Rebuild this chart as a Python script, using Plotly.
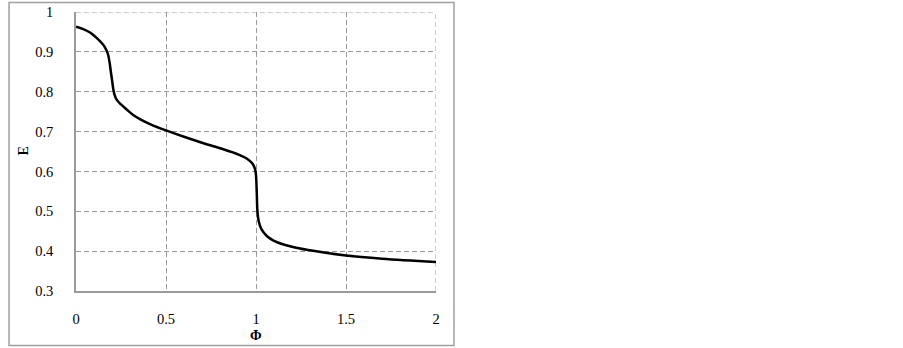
import plotly.graph_objects as go

phi = [0, 0.04, 0.08, 0.11, 0.145, 0.16, 0.177, 0.186, 0.193, 0.2, 0.206, 0.213, 0.225,
       0.25, 0.28, 0.32, 0.36, 0.42, 0.5, 0.6, 0.7, 0.8, 0.9, 0.95, 0.98, 0.995, 1.0, 1.004,
       1.008, 1.015, 1.03, 1.06, 1.1, 1.2, 1.3, 1.5, 1.7, 2.0]
E = [0.963, 0.957, 0.948, 0.937, 0.921, 0.912, 0.895, 0.875, 0.852, 0.83, 0.81, 0.794,
     0.781, 0.768, 0.756, 0.741, 0.730, 0.717, 0.703, 0.687, 0.672, 0.658, 0.643, 0.632,
     0.62, 0.605, 0.59, 0.55, 0.5, 0.475, 0.455, 0.438, 0.426, 0.411, 0.402, 0.389, 0.381,
     0.373]

x_ticks = [0, 0.5, 1, 1.5, 2]
x_labels = ["0", "0.5", "1", "1.5", "2"]
y_ticks = [0.3, 0.4, 0.5, 0.6, 0.7, 0.8, 0.9, 1.0]
y_labels = ["0.3", "0.4", "0.5", "0.6", "0.7", "0.8", "0.9", "1"]

font = "Liberation Serif, Times New Roman, serif"
grid = "#9a9a9a"
dash = "5px,3px"

fig = go.Figure()
fig.add_trace(go.Scatter(x=phi, y=E, mode="lines",
                         line=dict(color="black", width=2.5, shape="spline", smoothing=1),
                         hoverinfo="skip", showlegend=False))

fig.update_layout(
    width=903, height=348,
    margin=dict(l=76, r=467, t=12, b=57, autoexpand=False),
    paper_bgcolor="white", plot_bgcolor="white",
    font=dict(family=font, size=14.5, color="black"),
    xaxis=dict(range=[0, 2], tickvals=x_ticks, ticktext=x_labels, automargin=False,
               showgrid=True, gridcolor=grid, griddash=dash, gridwidth=1,
               showline=True, linecolor=grid, linewidth=1.5, zeroline=False,
               ticks="", ticklabelstandoff=14, fixedrange=True),
    yaxis=dict(range=[0.3, 1.0], tickvals=y_ticks, ticktext=y_labels, automargin=False,
               showgrid=True, gridcolor=grid, griddash=dash, gridwidth=1,
               showline=True, linecolor=grid, linewidth=1.5, zeroline=False,
               ticks="", ticklabelstandoff=18, fixedrange=True),
    annotations=[
        dict(text="<b>Φ</b>", x=0.5, y=-0.158, xref="paper", yref="paper",
             xanchor="center", yanchor="middle", showarrow=False,
             font=dict(family=font, size=14)),
        dict(text="<b>E</b>", x=-0.147, y=0.5, xref="paper", yref="paper",
             xanchor="center", yanchor="middle", showarrow=False, textangle=-90,
             font=dict(family=font, size=14)),
    ],
    shapes=[
        dict(type="line", xref="paper", yref="y", x0=0, x1=1, y0=y_ticks[-1], y1=y_ticks[-1],
             line=dict(color=grid, width=1, dash=dash), layer="below"),
        dict(type="line", xref="x", yref="paper", x0=x_ticks[-1], x1=x_ticks[-1], y0=0, y1=1,
             line=dict(color=grid, width=1, dash=dash), layer="below"),
        dict(type="rect", xref="paper", yref="paper",
             x0=-0.186, x1=1.05, y0=-0.195, y1=1.034,
             line=dict(color="#a0a0a0", width=1.5), fillcolor="rgba(0,0,0,0)"),
    ],
)

fig.write_html("out.html", config={"displayModeBar": False},
               post_script="document.body.style.margin='0';document.body.style.padding='0';")
